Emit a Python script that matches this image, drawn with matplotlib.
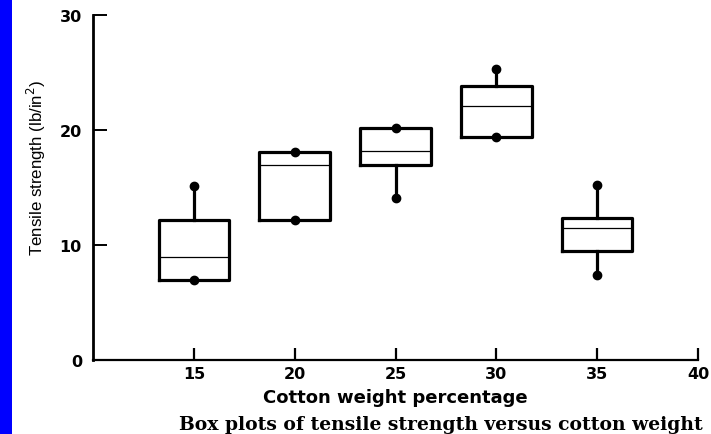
import matplotlib
matplotlib.use("Agg")
import matplotlib.pyplot as plt
from matplotlib.patches import Rectangle

# cotton weight percentage (box positions)
cotton_pct = [15, 20, 25, 30, 35]
# box statistics (lb/in^2)
q1 = [7.0, 12.2, 17.0, 19.4, 9.45]
median = [9.0, 17.0, 18.2, 22.1, 11.45]
q3 = [12.2, 18.1, 20.2, 23.8, 12.35]
whisker_lo = [7.0, 12.2, 14.1, 19.4, 7.4]
whisker_hi = [15.1, 18.1, 20.2, 25.3, 15.2]

x_ticks = [15, 20, 25, 30, 35, 40]
y_ticks = [0, 10, 20, 30]

fig = plt.figure(figsize=(7.11, 4.35), dpi=100)
ax = fig.add_axes([93 / 711, 1 - 361 / 435, 605 / 711, 345 / 435])

# bande bleue à gauche
fig.patches.append(Rectangle((0, 0), 12 / 711, 1, transform=fig.transFigure,
                             facecolor="#0000ff", edgecolor="none"))

stats = []
for i in range(len(cotton_pct)):
    stats.append({"q1": q1[i], "med": median[i], "q3": q3[i],
                  "whislo": whisker_lo[i], "whishi": whisker_hi[i],
                  "fliers": []})

ax.bxp(stats, positions=cotton_pct, widths=3.5, showcaps=False,
       boxprops=dict(color="black", linewidth=2.3),
       whiskerprops=dict(color="black", linewidth=2.3),
       medianprops=dict(color="black", linewidth=0.9),
       manage_ticks=False)

# points aux extrémités des moustaches
ax.plot(cotton_pct, whisker_hi, "o", color="black", markersize=6, zorder=5)
ax.plot(cotton_pct, whisker_lo, "o", color="black", markersize=6, zorder=5)

ax.set_xlim(10, 40)
ax.set_ylim(0, 30)
ax.set_xticks(x_ticks)
ax.set_yticks(y_ticks)

for s in ["top", "right"]:
    ax.spines[s].set_visible(False)
ax.spines["left"].set_linewidth(2.0)
ax.spines["bottom"].set_linewidth(1.6)

ax.tick_params(axis="x", direction="in", length=9, width=1.6, pad=4)
ax.tick_params(axis="y", direction="in", length=10, width=1.4, pad=8)
for lab in ax.get_xticklabels() + ax.get_yticklabels():
    lab.set_fontfamily("DejaVu Sans")
    lab.set_fontweight("bold")
    lab.set_fontsize(11.5)

ax.set_xlabel("Cotton weight percentage", fontfamily="DejaVu Sans",
              fontweight="bold", fontsize=13)
ax.xaxis.set_label_coords(0.5, -0.08)

fig.text(36 / 711, 1 - 168 / 435, "Tensile strength (lb/in$^2$)",
         rotation=90, ha="center", va="center",
         fontfamily="Liberation Sans", fontsize=12.2)

fig.text(441 / 711, 1 - 425 / 435,
         "Box plots of tensile strength versus cotton weight",
         ha="center", va="center", fontfamily="DejaVu Serif",
         fontweight="bold", fontsize=13.5)

fig.savefig("out.png", dpi=100)
